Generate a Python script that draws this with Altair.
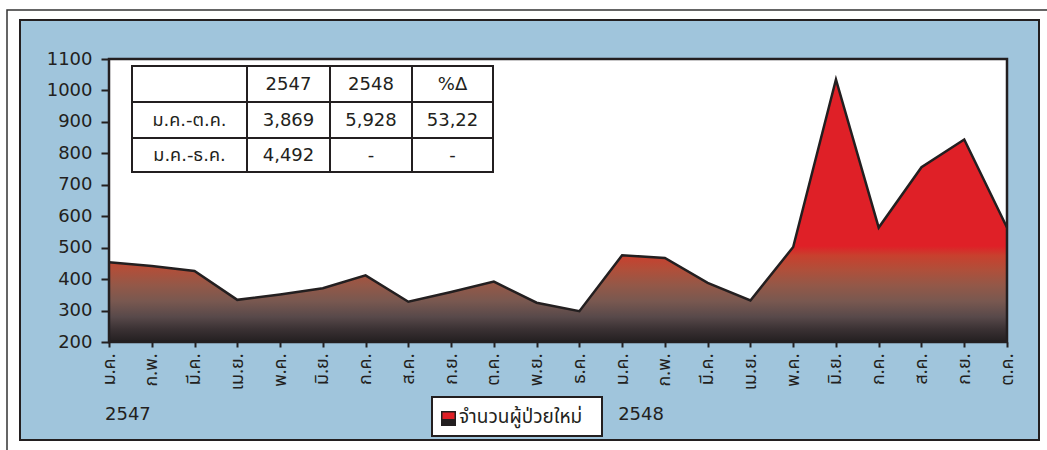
import json
import pandas as pd
import altair as alt

# ---------------- data ----------------
months_2547 = ["ม.ค.", "ก.พ.", "มี.ค.", "เม.ย.", "พ.ค.", "มิ.ย.", "ก.ค.", "ส.ค.", "ก.ย.", "ต.ค.", "พ.ย.", "ธ.ค."]
months_2548 = ["ม.ค.", "ก.พ.", "มี.ค.", "เม.ย.", "พ.ค.", "มิ.ย.", "ก.ค.", "ส.ค.", "ก.ย.", "ต.ค."]
values_2547 = [454, 442, 426, 334, 351, 371, 412, 328, 359, 392, 325, 298]
values_2548 = [476, 467, 388, 332, 502, 1035, 564, 756, 844, 564]
years = ["2547", "2548"]
series_name = "จำนวนผู้ป่วยใหม่"
y_ticks = [200, 300, 400, 500, 600, 700, 800, 900, 1000, 1100]

table_header = ["", "2547", "2548", "%Δ"]
table_rows = [
    ["ม.ค.-ต.ค.", "3,869", "5,928", "53,22"],
    ["ม.ค.-ธ.ค.", "4,492", "-", "-"],
]

# ---------------- layout / style ----------------
W, H = 898, 283
PAD_L, PAD_T = 109, 59
DARK = "#231f20"
BLUE = "#a0c5dc"
NUM_FONT = "DejaVu Sans"
THAI_FONT = "Noto Sans Thai, Loma, Garuda, Norasi, DejaVu Sans"

labels = months_2547 + months_2548
values = values_2547 + values_2548
n = len(values)
base = y_ticks[0]
df = pd.DataFrame({"idx": list(range(n)), "value": values, "base": [base] * n})

vmax = max(values)
def off(v):
    return max(0.0, min(1.0, (vmax - v) / (vmax - base)))

grad_pts = [(vmax, "#df2027"), (505, "#df2027"), (475, "#c8402e"), (430, "#b04f3a"),
            (380, "#935848"), (330, "#795850"), (280, "#58494a"), (240, "#3a3133"),
            (base, DARK)]
stops = [alt.GradientStop(offset=off(v), color=c) for v, c in grad_pts]

xscale = alt.Scale(domain=[0, n - 1], nice=False, zero=False)
yscale = alt.Scale(domain=[y_ticks[0], y_ticks[-1]], nice=False, zero=False)

label_expr = json.dumps(labels, ensure_ascii=False) + "[datum.value]"

one = pd.DataFrame({"a": [0]})

def box(x, x2, y, y2, fill, stroke, sw):
    kw = dict(fill=fill, strokeWidth=sw)
    if stroke:
        kw["stroke"] = stroke
    return alt.Chart(one).mark_rect(**kw).encode(
        x=alt.value(x), x2=alt.value(x2), y=alt.value(y), y2=alt.value(y2))

outer = box(7 - PAD_L, 1060 - PAD_L, 10 - PAD_T, 470 - PAD_T, "white", "#333333", 1.5)
panel = box(20 - PAD_L, 1039 - PAD_L, 20 - PAD_T, 440 - PAD_T, BLUE, DARK, 2)
plotbg = box(0, W, 0, H, "white", None, 0)

area = alt.Chart(df).mark_area(
    color=alt.Gradient(gradient="linear", stops=stops, x1=0, x2=0, y1=0, y2=1),
    opacity=1, fillOpacity=1,
    line={"color": DARK, "strokeWidth": 2.5},
).encode(
    x=alt.X("idx:Q", scale=xscale, title=None,
            axis=alt.Axis(values=list(range(n)), labelExpr=label_expr, labelAngle=270,
                          tickSize=5, tickWidth=2, tickColor=DARK, domain=False, grid=False,
                          labelFont=THAI_FONT, labelFontSize=18, labelColor=DARK,
                          labelPadding=6, zindex=1, labelOverlap=False)),
    y=alt.Y("value:Q", scale=yscale, title=None,
            axis=alt.Axis(values=y_ticks, format="d", tickSize=8, tickWidth=2, tickColor=DARK,
                          domain=False, grid=False, labelFont=NUM_FONT, labelFontSize=18,
                          labelColor=DARK, labelPadding=9, zindex=1)),
    y2="base:Q",
)

frame = alt.Chart(one).mark_rect(fillOpacity=0, stroke=DARK, strokeWidth=2.5).encode(
    x=alt.value(0), x2=alt.value(W), y=alt.value(0), y2=alt.value(H))

# table
cols = [132, 247, 330, 412, 493]
rows = [66, 102, 138, 172]
cols_r = [c - PAD_L for c in cols]
rows_r = [r - PAD_T for r in rows]
tbl_box = box(cols_r[0], cols_r[-1], rows_r[0], rows_r[-1], "white", DARK, 2)

rule_rows = []
for c in cols_r[1:-1]:
    rule_rows.append({"x": c, "x2": c, "y": rows_r[0], "y2": rows_r[-1]})
for r in rows_r[1:-1]:
    rule_rows.append({"x": cols_r[0], "x2": cols_r[-1], "y": r, "y2": r})
tbl_rules = alt.Chart(pd.DataFrame(rule_rows)).mark_rule(color=DARK, strokeWidth=2).encode(
    x=alt.X("x:Q", scale=None, axis=None), x2="x2:Q",
    y=alt.Y("y:Q", scale=None, axis=None), y2="y2:Q")

cells = []
all_rows = [table_header] + table_rows
for ri, row in enumerate(all_rows):
    for ci, txt in enumerate(row):
        if txt:
            cells.append({"t": txt,
                          "x": (cols_r[ci] + cols_r[ci + 1]) / 2,
                          "y": (rows_r[ri] + rows_r[ri + 1]) / 2 + 1})
tbl_text = alt.Chart(pd.DataFrame(cells)).mark_text(
    font="DejaVu Sans, Noto Sans Thai, Loma, Garuda", fontSize=18,
    color=DARK, align="center", baseline="middle").encode(
    x=alt.X("x:Q", scale=None, axis=None), y=alt.Y("y:Q", scale=None, axis=None), text="t:N")

# year labels under January ticks
yr_df = pd.DataFrame({"idx": [0, len(months_2547)], "t": years})
yr_text = alt.Chart(yr_df).mark_text(font=NUM_FONT, fontSize=18, color=DARK, align="left",
                                     baseline="middle", dx=-4).encode(
    x=alt.X("idx:Q", scale=xscale), y=alt.value(415 - PAD_T), text="t:N")

# legend
leg_box = box(432 - PAD_L, 602 - PAD_L, 397 - PAD_T, 436 - PAD_T, "white", DARK, 2)
leg_sw_dark = box(441 - PAD_L, 456 - PAD_L, 411 - PAD_T, 426 - PAD_T, DARK, None, 0)
leg_sw_red = box(442.5 - PAD_L, 454.5 - PAD_L, 412.5 - PAD_T, 419 - PAD_T, "#df2027", None, 0)
leg_text = alt.Chart(pd.DataFrame({"t": [series_name]})).mark_text(
    font=THAI_FONT, fontSize=19, color=DARK, align="left", baseline="middle").encode(
    x=alt.value(459 - PAD_L), y=alt.value(417 - PAD_T), text="t:N")

chart = alt.layer(
    outer, panel, plotbg, area, frame, tbl_box, tbl_rules, tbl_text,
    yr_text, leg_box, leg_sw_dark, leg_sw_red, leg_text,
).properties(
    width=W, height=H,
    padding={"left": PAD_L, "top": PAD_T, "right": 1047 - PAD_L - W, "bottom": 450 - PAD_T - H},
    autosize=alt.AutoSizeParams(type="none"),
    background="white",
).configure_view(strokeWidth=0)

chart.save("out.html", embed_options={"renderer": "svg", "actions": False})
